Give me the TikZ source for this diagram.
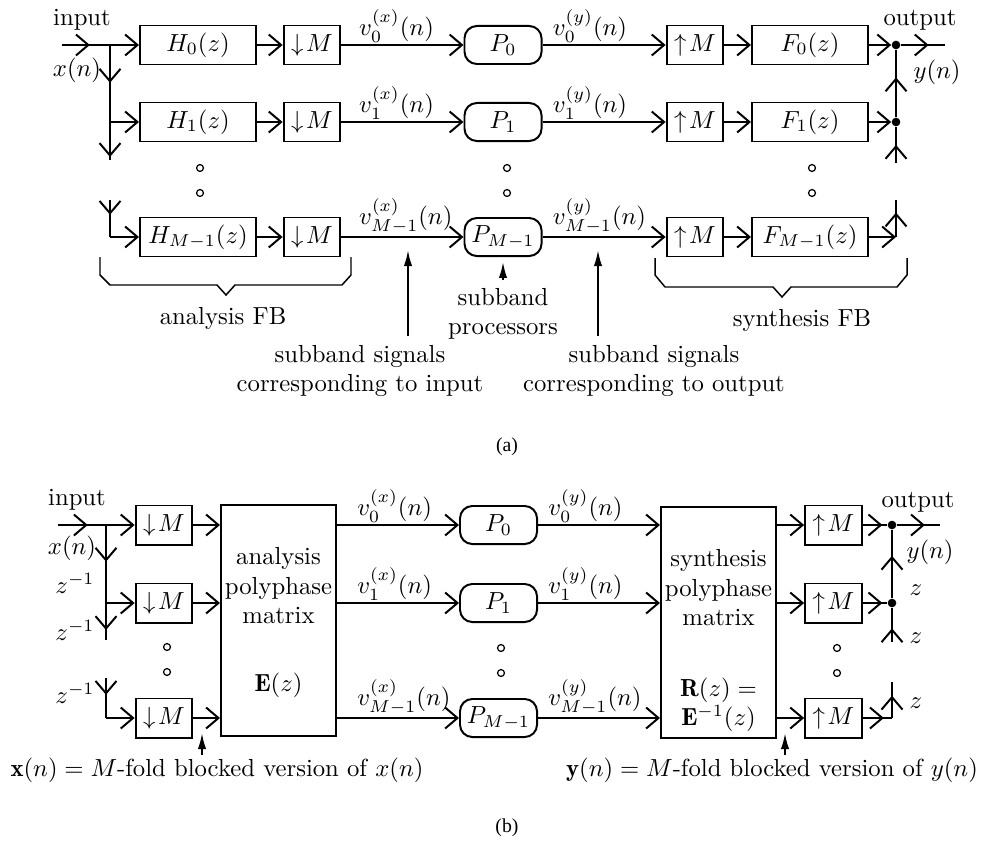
\documentclass[tikz,border=0pt]{standalone}
\usepackage{amsmath}
\usepackage{fontspec}
\newfontfamily\capfont{Liberation Serif}
\usetikzlibrary{positioning}
\usetikzlibrary{arrows.meta,decorations.markings}

\tikzset{
  wire/.style={line width=0.8pt},
  chev/.style={wire,-{Straight Barb[length=5pt,width=8.5pt]}},
  midchev/.style={wire,postaction={decorate},
    decoration={markings,mark=at position #1 with {\arrow{Straight Barb[length=5pt,width=8.5pt]}}}},
  pointer/.style={wire,-{Latex[length=6.5pt,width=3.4pt]}},
  blk/.style={draw,wire,minimum height=15.8pt,inner sep=0pt},
  filt/.style={blk,minimum width=47pt},
  ratebox/.style={blk,minimum width=23pt},
  proc/.style={blk,minimum width=31.2pt,minimum height=15.4pt,rounded corners=5pt},
  polymat/.style={draw,wire,minimum width=46.6pt,minimum height=93.6pt,inner sep=0pt},
  adder/.style={circle,fill,inner sep=0pt,minimum size=3.5pt},
  elldot/.style={circle,draw,line width=0.5pt,inner sep=0pt,minimum size=2.8pt},
  sublbl/.style={inner sep=1pt},
  brace/.style={line width=0.6pt},
  capt/.style={font={\capfont\fontsize{8}{9.5}\selectfont}},
}

\begin{document}
\begin{tikzpicture}[x=0.405pt,y=-0.405pt]
    \useasboundingbox (0,0) rectangle (985,841);

    \node (inA) at (82,20) {input};
    \node (xA) at (77,70) {$x(n)$};
    \coordinate (srcA) at (62,45);
    \coordinate (brA0) at (110,45);
    \coordinate (brA1) at (110,122);
    \coordinate (endA1) at (110,160);
    \coordinate (topA2) at (110,200);
    \coordinate (brA2) at (110,237);

    \node[filt] (H0) at (198,45) {$H_0(z)$};
    \node[filt] (H1) at (198,122) {$H_1(z)$};
    \node[filt] (H2) at (198,237) {$H_{M-1}(z)$};
    \node[ratebox] (dA0) at (312,45) {$\downarrow\!M$};
    \node[ratebox] (dA1) at (312,122) {$\downarrow\!M$};
    \node[ratebox] (dA2) at (312,237) {$\downarrow\!M$};
    \node[proc] (PA0) at (503,45) {$P_0$};
    \node[proc] (PA1) at (503,122) {$P_1$};
    \node[proc] (PA2) at (503,237) {$P_{M-1}$};
    \node[ratebox] (uA0) at (695,45) {$\uparrow\!M$};
    \node[ratebox] (uA1) at (695,122) {$\uparrow\!M$};
    \node[ratebox] (uA2) at (695,237) {$\uparrow\!M$};
    \node[filt] (F0) at (810,45) {$F_0(z)$};
    \node[filt] (F1) at (810,122) {$F_1(z)$};
    \node[filt] (F2) at (810,237) {$F_{M-1}(z)$};

    \node[adder] (sA0) at (896,45) {};
    \node[adder] (sA1) at (896,122) {};
    \coordinate (cA2) at (896,237);
    \coordinate (topRA1) at (896,163);
    \coordinate (endRA2) at (896,200);
    \coordinate (outA) at (945,45);
    \node (oA) at (920,20) {output};
    \node (yA) at (937,72) {$y(n)$};

    \draw[midchev=0.58] (srcA) -- (brA0);
    \draw[chev] (brA0) -- (H0);
    \draw[midchev=0.49] (brA0) -- (brA1);
    \draw[chev] (brA1) -- (H1);
    \draw[midchev=0.92] (brA1) -- (endA1);
    \draw[midchev=0.4] (topA2) -- (brA2);
    \draw[chev] (brA2) -- (H2);

    \draw[chev] (H0) -- (dA0);
    \draw[chev] (H1) -- (dA1);
    \draw[chev] (H2) -- (dA2);
    \draw[chev] (dA0) -- (PA0);
    \draw[chev] (dA1) -- (PA1);
    \draw[chev] (dA2) -- (PA2);
    \draw[chev] (PA0) -- (uA0);
    \draw[chev] (PA1) -- (uA1);
    \draw[chev] (PA2) -- (uA2);
    \draw[chev] (uA0) -- (F0);
    \draw[chev] (uA1) -- (F1);
    \draw[chev] (uA2) -- (F2);

    \draw[chev] (F0) -- (sA0);
    \draw[chev] (F1) -- (sA1);
    \draw[chev] (F2) -- (cA2);
    \draw[midchev=0.63] (sA0) -- (outA);
    \draw[midchev=0.5] (topRA1) -- (sA1);
    \draw[midchev=0.59] (sA1) -- (sA0);
    \draw[midchev=0.66] (cA2) -- (endRA2);

    \node[sublbl, above right=0pt and 6pt of dA0.east] (vxA0) {$v_0^{(x)}(n)$};
    \node[sublbl, above right=0pt and 6pt of dA1.east] (vxA1) {$v_1^{(x)}(n)$};
    \node[sublbl, above right=0pt and 6pt of dA2.east] (vxA2) {$v_{M-1}^{(x)}(n)$};
    \node[sublbl, above right=0pt and 3pt of PA0.east] (vyA0) {$v_0^{(y)}(n)$};
    \node[sublbl, above right=0pt and 3pt of PA1.east] (vyA1) {$v_1^{(y)}(n)$};
    \node[sublbl, above right=0pt and 3pt of PA2.east] (vyA2) {$v_{M-1}^{(y)}(n)$};

    \node[elldot] (eA1) at (200,168) {};
    \node[elldot] (eA2) at (200,193) {};
    \node[elldot] (eA3) at (507,168) {};
    \node[elldot] (eA4) at (507,193) {};
    \node[elldot] (eA5) at (812,168) {};
    \node[elldot] (eA6) at (812,193) {};

    \draw[brace] (100,257) -- (100,275) -- (110,285) -- (217,285) -- (226,295)
        -- (235,285) -- (342,285) -- (351,275) -- (351,257);
    \draw[brace] (655,258) -- (655,275) -- (665,287) -- (773,287) -- (782,297)
        -- (791,287) -- (897,287) -- (907,275) -- (907,258);
    \node (anaFB) at (223,318) {analysis FB};
    \node (synFB) at (802,320) {synthesis FB};

    \node[align=center] (procs) at (503,314) {subband\\processors};
    \node[align=center] (sigIn) at (360,371) {subband signals\\corresponding to input};
    \node[align=center] (sigOut) at (654,371) {subband signals\\corresponding to output};
    \coordinate (tipIn) at (408,250);
    \coordinate (tipOut) at (598,250);
    \draw[pointer] (sigIn.north -| tipIn) -- (tipIn);
    \draw[pointer] (sigOut.north -| tipOut) -- (tipOut);
    \draw[pointer, shorten >=2pt] (procs.north) -- (PA2.south);

    \node[capt] (capA) at (507,447) {(a)};

    \node (inB) at (77,500) {input};
    \node (xB) at (72,548) {$x(n)$};
    \coordinate (srcB) at (58,525);
    \coordinate (brB0) at (106,525);
    \coordinate (brB1) at (106,603);
    \coordinate (endB1) at (106,640);
    \coordinate (topB2) at (106,678);
    \coordinate (brB2) at (106,718);
    \node (zB0) at (75,583) {$z^{-1}$};
    \node (zB1) at (75,630) {$z^{-1}$};
    \node (zB2) at (75,693) {$z^{-1}$};

    \node[ratebox] (dB0) at (164,525) {$\downarrow\!M$};
    \node[ratebox] (dB1) at (164,603) {$\downarrow\!M$};
    \node[ratebox] (dB2) at (164,718) {$\downarrow\!M$};
    \node[polymat] (Emat) at (278.5,620.5) {};
    \node[align=center, below=14pt of Emat.north] (Etxt)
        {analysis\\polyphase\\matrix\\[15.5pt]$\mathbf{E}(z)$};
    \node[proc] (PB0) at (498.5,525) {$P_0$};
    \node[proc] (PB1) at (498.5,603) {$P_1$};
    \node[proc] (PB2) at (498.5,718) {$P_{M-1}$};
    \node[polymat] (Rmat) at (718.5,622.5) {};
    \node[align=center, below=14pt of Rmat.north] (Rtxt)
        {synthesis\\polyphase\\matrix\\[16.5pt]$\mathbf{R}(z)=$\\$\mathbf{E}^{-1}(z)$};
    \node[ratebox] (uB0) at (833.5,525) {$\uparrow\!M$};
    \node[ratebox] (uB1) at (833.5,603) {$\uparrow\!M$};
    \node[ratebox] (uB2) at (833.5,718) {$\uparrow\!M$};

    \node[adder] (sB0) at (892,525) {};
    \node[adder] (sB1) at (892,603) {};
    \coordinate (cB2) at (892,718);
    \coordinate (topRB1) at (892,642);
    \coordinate (endRB2) at (892,682);
    \coordinate (outB) at (940,525);
    \node (oB) at (918,502) {output};
    \node (yB) at (930,552) {$y(n)$};
    \node (zR0) at (916,590) {$z$};
    \node (zR1) at (916,638) {$z$};
    \node (zR2) at (916,703) {$z$};

    \draw[midchev=0.62] (srcB) -- (brB0);
    \draw[chev] (brB0) -- (dB0);
    \draw[midchev=0.47] (brB0) -- (brB1);
    \draw[chev] (brB1) -- (dB1);
    \draw[midchev=0.73] (brB1) -- (endB1);
    \draw[midchev=0.42] (topB2) -- (brB2);
    \draw[chev] (brB2) -- (dB2);

    \draw[chev] (dB0) -- (dB0 -| Emat.west);
    \draw[chev] (dB1) -- (dB1 -| Emat.west);
    \draw[chev] (dB2) -- (dB2 -| Emat.west);
    \draw[chev] (Emat.east |- PB0) -- (PB0);
    \draw[chev] (Emat.east |- PB1) -- (PB1);
    \draw[chev] (Emat.east |- PB2) -- (PB2);
    \draw[chev] (PB0) -- (PB0 -| Rmat.west);
    \draw[chev] (PB1) -- (PB1 -| Rmat.west);
    \draw[chev] (PB2) -- (PB2 -| Rmat.west);
    \draw[chev] (Rmat.east |- uB0) -- (uB0);
    \draw[chev] (Rmat.east |- uB1) -- (uB1);
    \draw[chev] (Rmat.east |- uB2) -- (uB2);

    \draw[midchev=0.8] (uB0) -- (sB0);
    \draw[midchev=0.8] (uB1) -- (sB1);
    \draw[midchev=0.72] (uB2) -- (cB2);
    \draw[midchev=0.65] (sB0) -- (outB);
    \draw[midchev=0.4] (topRB1) -- (sB1);
    \draw[midchev=0.62] (sB1) -- (sB0);
    \draw[midchev=0.62] (cB2) -- (endRB2);

    \node[sublbl, above right=0pt and 7pt of Emat.east |- PB0] (vxB0) {$v_0^{(x)}(n)$};
    \node[sublbl, above right=0pt and 7pt of Emat.east |- PB1] (vxB1) {$v_1^{(x)}(n)$};
    \node[sublbl, above right=0pt and 7pt of Emat.east |- PB2] (vxB2) {$v_{M-1}^{(x)}(n)$};
    \node[sublbl, above right=0pt and 3pt of PB0.east] (vyB0) {$v_0^{(y)}(n)$};
    \node[sublbl, above right=0pt and 3pt of PB1.east] (vyB1) {$v_1^{(y)}(n)$};
    \node[sublbl, above right=0pt and 3pt of PB2.east] (vyB2) {$v_{M-1}^{(y)}(n)$};

    \node[elldot] (eB1) at (167,647) {};
    \node[elldot] (eB2) at (167,672) {};
    \node[elldot] (eB3) at (501,648) {};
    \node[elldot] (eB4) at (501,673) {};
    \node[elldot] (eB5) at (837,648) {};
    \node[elldot] (eB6) at (837,673) {};

    \node[sublbl] (xblk) at (217,770) {$\mathbf{x}(n) = M$-fold blocked version of $x(n)$};
    \node[sublbl] (yblk) at (772,770) {$\mathbf{y}(n) = M$-fold blocked version of $y(n)$};
    \coordinate (tipX) at (202,733);
    \coordinate (tipY) at (785,733);
    \draw[pointer] (xblk.north -| tipX) -- (tipX);
    \draw[pointer] (yblk.north -| tipY) -- (tipY);

    \node[capt] (capB) at (507,828) {(b)};
\end{tikzpicture}
\end{document}
